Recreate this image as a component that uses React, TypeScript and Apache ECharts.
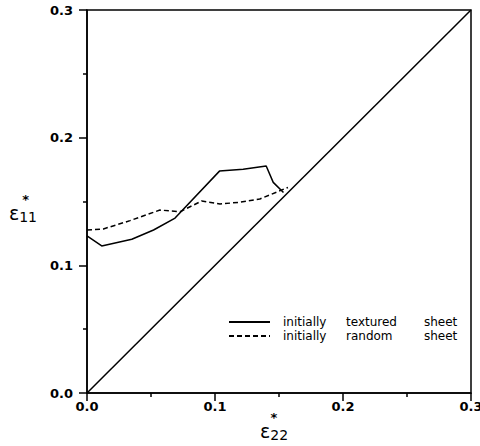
import React, { useEffect, useRef } from "react";
import * as echarts from "echarts";

const texturedX = [0, 0.0115, 0.035, 0.052, 0.0688, 0.1035, 0.122, 0.140, 0.1455, 0.1535];
const texturedY = [0.123, 0.1152, 0.1204, 0.1277, 0.137, 0.1738, 0.1752, 0.1778, 0.165, 0.157];
const randomX = [0, 0.0128, 0.0336, 0.057, 0.0727, 0.0896, 0.1039, 0.12, 0.135, 0.157];
const randomY = [0.1277, 0.1285, 0.135, 0.1433, 0.142, 0.1504, 0.148, 0.1495, 0.152, 0.161];
const diagonalX = [0, 0.3];
const diagonalY = [0, 0.3];
const seriesNames = ["initially textured sheet", "initially random sheet"];
const legendWords: Record<string, string[]> = {
  "initially textured sheet": ["initially", "textured", "sheet"],
  "initially random sheet": ["initially", "random", "sheet"],
};

const pairs = (xs: number[], ys: number[]) => xs.map((x, i) => [x, ys[i]]);

const tickFont = {
  color: "#000",
  fontFamily: "DejaVu Sans",
  fontWeight: "bold" as const,
  fontSize: 13,
};

const makeRich = (starPadRight: number) => ({
  st: { fontFamily: "DejaVu Sans", fontSize: 13, lineHeight: 9, color: "#000", fontWeight: "bold" as const, padding: [0, starPadRight, 0, 0] },
  e: { fontFamily: "DejaVu Sans", fontSize: 19, lineHeight: 18, color: "#000", verticalAlign: "bottom" as const },
  sub: { fontFamily: "DejaVu Sans", fontSize: 14, lineHeight: 18, color: "#000", verticalAlign: "bottom" as const, padding: [0, 0, -2, 0] },
});

export default function App() {
  const ref = useRef<HTMLDivElement>(null);
  useEffect(() => {
    if (!ref.current) return;
    const chart = echarts.init(ref.current, null, { renderer: "svg" });
    const axisCommon = {
      type: "value" as const,
      min: 0,
      max: 0.3,
      interval: 0.1,
      nameMoveOverlap: false,
      axisLine: { show: true, onZero: false, lineStyle: { color: "#000", width: 1.5 } },
      axisTick: { show: true, inside: false, length: 8, lineStyle: { color: "#000", width: 1.5 } },
      minorTick: { show: true, splitNumber: 2, length: 4, lineStyle: { color: "#000", width: 1.5 } },
      splitLine: { show: false },
      minorSplitLine: { show: false },
    };
    chart.setOption({
      animation: false,
      backgroundColor: "#fff",
      grid: {
        left: 87,
        right: 9,
        top: 10,
        bottom: 53,
        containLabel: false,
        outerBoundsMode: "none",
        show: true,
        borderColor: "#000",
        borderWidth: 1.5,
        backgroundColor: "transparent",
      },
      legend: {
        data: seriesNames,
        orient: "vertical",
        left: 228,
        top: 316,
        padding: 0,
        itemWidth: 41,
        itemHeight: 14,
        itemGap: 2,
        selectedMode: false,
        itemStyle: { color: "transparent", borderColor: "transparent", borderWidth: 0 },
        formatter: (name: string) => {
          const w = legendWords[name];
          return `{a|${w[0]}}{b|${w[1]}}{c|${w[2]}}`;
        },
        textStyle: {
          color: "#000",
          fontFamily: "DejaVu Sans",
          fontSize: 12,
          rich: {
            a: { fontFamily: "DejaVu Sans", fontSize: 12, color: "#000", width: 63, padding: [0, 0, 0, 8] },
            b: { fontFamily: "DejaVu Sans", fontSize: 12, color: "#000", width: 78 },
            c: { fontFamily: "DejaVu Sans", fontSize: 12, color: "#000" },
          },
        },
      },
      xAxis: {
        ...axisCommon,
        position: "bottom",
        axisLabel: { ...tickFont, margin: 7, formatter: (v: number) => v.toFixed(1) },
        name: "{st|*}\n{e|ε}{sub|22}",
        nameLocation: "middle",
        nameGap: 20,
        nameTextStyle: { rich: makeRich(0), padding: [0, 10, 0, 0] },
      },
      yAxis: {
        ...axisCommon,
        position: "left",
        axisLabel: { ...tickFont, margin: 14, formatter: (v: number) => v.toFixed(1) },
        name: "{st|*}\n{e|ε}{sub|11}",
        nameLocation: "middle",
        nameRotate: 0,
        nameGap: 50,
        nameTextStyle: { rich: makeRich(8), padding: [14, 0, 0, 0] },
      },
      series: [
        {
          name: seriesNames[0],
          type: "line",
          data: pairs(texturedX, texturedY),
          symbol: "none",
          lineStyle: { color: "#000", width: 1.5, type: "solid" },
          itemStyle: { color: "#000" },
        },
        {
          name: seriesNames[1],
          type: "line",
          data: pairs(randomX, randomY),
          symbol: "none",
          lineStyle: { color: "#000", width: 1.5, type: [5, 3] },
          itemStyle: { color: "#000" },
        },
        {
          name: "diagonal",
          type: "line",
          data: pairs(diagonalX, diagonalY),
          symbol: "none",
          lineStyle: { color: "#000", width: 1.5 },
        },
      ],
    });
    return () => chart.dispose();
  }, []);
  return <div ref={ref} style={{ width: 480, height: 446, position: "absolute", left: 0, top: 0 }} />;
}
